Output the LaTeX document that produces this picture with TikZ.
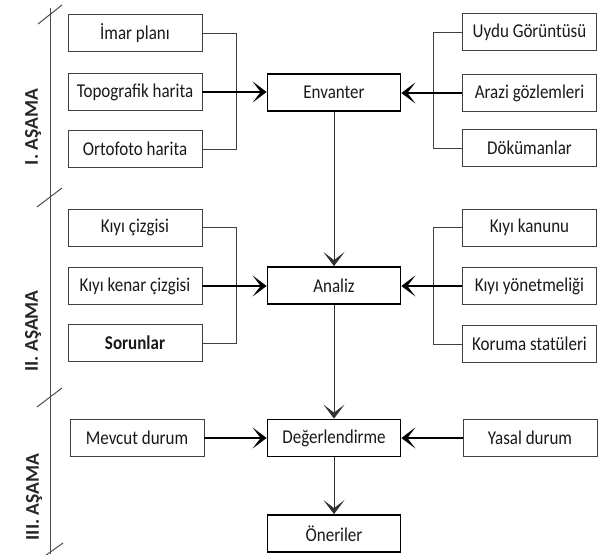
\documentclass[tikz,border=0pt]{standalone}
\usepackage{fontspec}
\usepackage{graphicx}
\setmainfont{Carlito}
\usetikzlibrary{arrows.meta}
\newcommand{\tst}[1]{\scalebox{1}[1.15]{#1}}
\tikzset{
  srcbox/.style={draw=black!75, line width=0.9pt, minimum width=134pt, minimum height=37pt, inner sep=0pt, text=black!90, font=\fontsize{17}{19}\selectfont},
  mainbox/.style={draw=black, line width=1.8pt, minimum width=133pt, minimum height=37pt, inner sep=0pt, text=black!90, font=\fontsize{17}{19}\selectfont},
  conn/.style={draw=black!75, line width=1pt},
  arr/.style={draw=black, line width=1.6pt, -{Stealth[length=14pt,width=21pt,inset=8pt]}},
  varr/.style={draw=black!80, line width=1pt, -{Stealth[length=14pt,width=21pt,inset=8pt]}},
  stage/.style={rotate=90, font=\fontsize{19.5}{21}\selectfont\bfseries, text=black!85},
  sideline/.style={draw=black!70, line width=1pt}
}
\begin{document}
\begin{tikzpicture}[x=1pt,y=-1pt]
\useasboundingbox (0,0) rectangle (601,554);
% side stage line
\draw[sideline] (50,8) -- (50,554);
\draw[sideline] (38,24) -- (62,5);
\draw[sideline] (37,207) -- (62,188);
\draw[sideline] (37,407) -- (62,388);
\draw[sideline] (42,558) -- (63,543);
\node[stage] (s1) at (33,127) {I. AŞAMA};
\node[stage] (s2) at (33,331) {II. AŞAMA};
\node[stage] (s3) at (34,497) {III. AŞAMA};
% row 1
\node[srcbox] (imar) at (135,33) {\tst{İmar planı}};
\node[srcbox] (topo) at (135,92) {\tst{Topografik harita}};
\node[srcbox] (orto) at (135,149) {\tst{Ortofoto harita}};
\node[mainbox] (env) at (334,92.5) {\tst{Envanter}};
\node[srcbox] (uydu) at (529.5,32) {\tst{Uydu Görüntüsü}};
\node[srcbox] (arazi) at (529.5,93) {\tst{Arazi gözlemleri}};
\node[srcbox] (dok) at (529.5,148) {\tst{Dökümanlar}};
\coordinate (bl1) at (236,92);
\coordinate (br1) at (433,92);
\draw[conn] (imar.east) -- (imar.east -| bl1) -- (orto.east -| bl1) -- (orto.east);
\draw[conn] (uydu.west) -- (uydu.west -| br1) -- (dok.west -| br1) -- (dok.west);
\draw[arr] (topo.east) -- (topo.east -| env.west);
\draw[arr] (arazi.west) -- (arazi.west -| env.east);
% row 2
\node[srcbox] (kcizgi) at (135,227.5) {\tst{Kıyı çizgisi}};
\node[srcbox] (kkenar) at (135,286) {\tst{Kıyı kenar çizgisi}};
\node[srcbox] (sorun) at (135,343) {\tst{\bfseries Sorunlar}};
\node[mainbox] (analiz) at (334,285.5) {\tst{Analiz}};
\node[srcbox] (kanun) at (529.5,227.5) {\tst{Kıyı kanunu}};
\node[srcbox] (yonet) at (529.5,286) {\tst{Kıyı yönetmeliği}};
\node[srcbox] (koruma) at (529.5,344) {\tst{Koruma statüleri}};
\coordinate (bl2) at (236,286);
\coordinate (br2) at (433,286);
\draw[conn] (kcizgi.east) -- (kcizgi.east -| bl2) -- (sorun.east -| bl2) -- (sorun.east);
\draw[conn] (kanun.west) -- (kanun.west -| br2) -- (koruma.west -| br2) -- (koruma.west);
\draw[arr] (kkenar.east) -- (kkenar.east -| analiz.west);
\draw[arr] (yonet.west) -- (yonet.west -| analiz.east);
% row 3
\node[srcbox] (mevcut) at (137,438) {\tst{Mevcut durum}};
\node[mainbox] (deger) at (334,438) {\tst{Değerlendirme}};
\node[srcbox] (yasal) at (530,438) {\tst{Yasal durum}};
\node[mainbox] (oneri) at (334,533.5) {\tst{Öneriler}};
\draw[arr] (mevcut.east) -- (deger.west);
\draw[arr] (yasal.west) -- (deger.east);
% verticals
\draw[varr] (env.south) -- (analiz.north);
\draw[varr] (analiz.south) -- (deger.north);
\draw[varr] (deger.south) -- (oneri.north);
\end{tikzpicture}
\end{document}
